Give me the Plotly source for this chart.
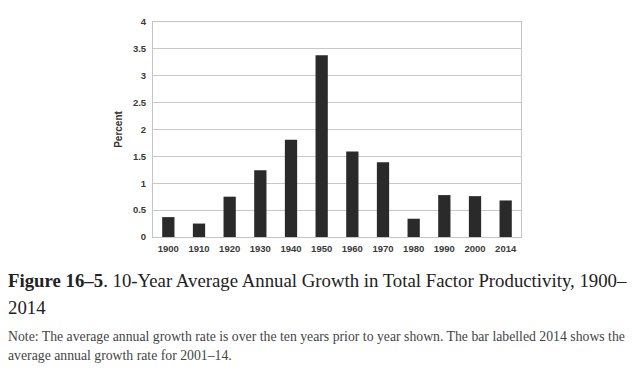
import plotly.graph_objects as go

categories = ["1900", "1910", "1920", "1930", "1940", "1950", "1960", "1970", "1980", "1990", "2000", "2014"]
values = [0.37, 0.25, 0.75, 1.24, 1.81, 3.38, 1.59, 1.39, 0.34, 0.78, 0.76, 0.68]
y_ticks = [0, 0.5, 1, 1.5, 2, 2.5, 3, 3.5, 4]
y_tick_labels = ["0", "0.5", "1", "1.5", "2", "2.5", "3", "3.5", "4"]

caption_line1 = "<b>Figure 16–5</b>. 10-Year Average Annual Growth in Total Factor Productivity, 1900–"
caption_line2 = "2014"
note_line1 = "Note: The average annual growth rate is over the ten years prior to year shown. The bar labelled 2014 shows the"
note_line2 = "average annual growth rate for 2001–14."

# The page has an 8px body margin, so the figure is sized to fit inside the window.
W, H = 632, 374
L, R, T, B = 145, 119, 8, 145
PH = H - T - B

fig = go.Figure()
fig.add_trace(go.Bar(x=categories, y=values, marker=dict(color="#2a2a2a", line=dict(width=0)),
                     width=0.4))

tickfont = dict(family="Liberation Sans, Arial, sans-serif", size=9.5, color="#3a3a3a")
fig.update_layout(
    width=W, height=H,
    margin=dict(l=L, r=R, t=T, b=B),
    paper_bgcolor="white", plot_bgcolor="white",
    showlegend=False,
    xaxis=dict(type="category", tickfont=tickfont, showgrid=False, showline=True,
               linecolor="#c4c4c4", linewidth=1, mirror=True, ticks="", ticklabelstandoff=3),
    yaxis=dict(range=[0, 4], tickvals=y_ticks, ticktext=["<b>%s</b>" % t for t in y_tick_labels],
               tickfont=tickfont,
               showgrid=True, gridcolor="#c8c8c8", gridwidth=1, showline=True,
               linecolor="#c4c4c4", linewidth=1, mirror=True, ticks="", zeroline=False,
               ticklabelstandoff=4,
               title=dict(text="<b>Percent</b>", font=dict(family="Liberation Sans, Arial, sans-serif",
                                                           size=10, color="#333333"), standoff=8)),
)
fig.update_xaxes(ticktext=["<b>%s</b>" % c for c in categories], tickvals=categories)

serif = "Liberation Serif, Times New Roman, serif"

def py(px_bottom):
    return (T + PH - px_bottom) / PH

x0 = -L / (W - L - R)
for text, bottom, size, color in [
    (caption_line1, 284.6, 18.8, "#222222"),
    (caption_line2, 312.6, 18.8, "#222222"),
    (note_line1, 338.5, 13.75, "#444444"),
    (note_line2, 358.5, 13.75, "#444444"),
]:
    fig.add_annotation(xref="paper", yref="paper", x=x0, y=py(bottom),
                       xanchor="left", yanchor="bottom", showarrow=False, align="left",
                       borderpad=0, borderwidth=0,
                       text=text, font=dict(family=serif, size=size, color=color))

fig.write_html("out.html")
